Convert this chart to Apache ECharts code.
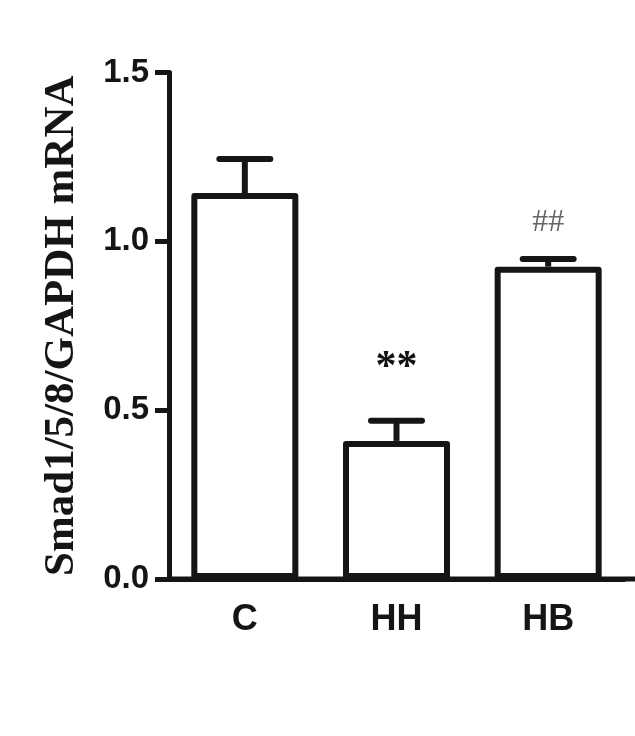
<!DOCTYPE html>
<html>
<head>
<meta charset="utf-8">
<script src="https://cdn.jsdelivr.net/npm/echarts@6/dist/echarts.min.js"></script>
<style>html,body{margin:0;padding:0;background:#fff;}#c{width:635px;height:736px;}</style>
</head>
<body>
<div id="c"></div>
<script>
var categories = ['C', 'HH', 'HB'];
var means = [1.143, 0.409, 0.925];
var errors = [0.101, 0.060, 0.023];
var marks = ['', '**', '##'];
var markColors = ['#111', '#111', '#666'];
var yTicks = [0, 0.5, 1.0, 1.5];

var chart = echarts.init(document.getElementById('c'));
var ink = '#151515';
var option = {
  animation: false,
  backgroundColor: '#fff',
  grid: { left: 169, top: 72.5, bottom: 157, right: 11, containLabel: false },
  xAxis: {
    type: 'category',
    data: categories,
    axisLine: { lineStyle: { color: ink, width: 5 } },
    axisTick: { alignWithLabel: true, length: 14, lineStyle: { color: ink, width: 5 } },
    axisLabel: { color: ink, fontFamily: 'Liberation Sans', fontWeight: 'bold', fontSize: 36, margin: 23 },
    splitLine: { show: false }
  },
  yAxis: {
    type: 'value',
    min: 0, max: 1.5, interval: 0.5,
    name: 'Smad1/5/8/GAPDH mRNA',
    nameLocation: 'middle',
    nameGap: 86,
    nameTextStyle: { color: ink, fontFamily: 'Liberation Serif', fontWeight: 'bold', fontSize: 43 },
    axisLine: { show: true, lineStyle: { color: ink, width: 5 } },
    axisTick: { show: true, length: 14, lineStyle: { color: ink, width: 5 } },
    axisLabel: { color: ink, fontFamily: 'Liberation Sans', fontWeight: 'bold', fontSize: 33, margin: 20,
      formatter: function (v) { return yTicks.indexOf(v) >= 0 ? v.toFixed(1) : ''; } },
    splitLine: { show: false }
  },
  series: [
    {
      type: 'bar',
      data: means,
      barWidth: 107,
      itemStyle: { color: '#fff', borderColor: ink, borderWidth: 6, borderJoin: 'round' },
      z: 1
    },
    {
      type: 'custom',
      z: 3,
      data: categories.map(function (c, i) { return [i, means[i], errors[i]]; }),
      renderItem: function (params, api) {
        var i = api.value(0);
        var base = api.coord([i, api.value(1)]);
        var top = api.coord([i, api.value(1) + api.value(2)]);
        var half = 25.5;
        var children = [
          { type: 'line', shape: { x1: top[0], y1: base[1], x2: top[0], y2: top[1] },
            style: { stroke: ink, lineWidth: 6 } },
          { type: 'line', shape: { x1: top[0] - half, y1: top[1], x2: top[0] + half, y2: top[1] },
            style: { stroke: ink, lineWidth: 6, lineCap: 'round' } }
        ];
        var m = marks[i];
        if (m) {
          var big = m === '**';
          children.push({ type: 'text', style: {
            text: m, x: top[0], y: top[1] - (big ? 31 : 20), textAlign: 'center', textVerticalAlign: 'bottom',
            fill: markColors[i], fontFamily: 'Liberation Serif', fontWeight: big ? 'bold' : 'normal',
            fontSize: big ? 42 : 32
          } });
        }
        return { type: 'group', children: children };
      }
    }
  ]
};
chart.setOption(option);
// extend x axis line to the right edge like the original figure
var pStart = chart.convertToPixel({ gridIndex: 0 }, [0, 0]);
var pNext = chart.convertToPixel({ gridIndex: 0 }, [1, 0]);
var band = pNext[0] - pStart[0];
chart.setOption({ graphic: [{ type: 'line', z: 10,
  shape: { x1: pStart[0] - band / 2, y1: pStart[1], x2: 635, y2: pStart[1] },
  style: { stroke: ink, lineWidth: 5 } }] });
</script>
</body>
</html>
